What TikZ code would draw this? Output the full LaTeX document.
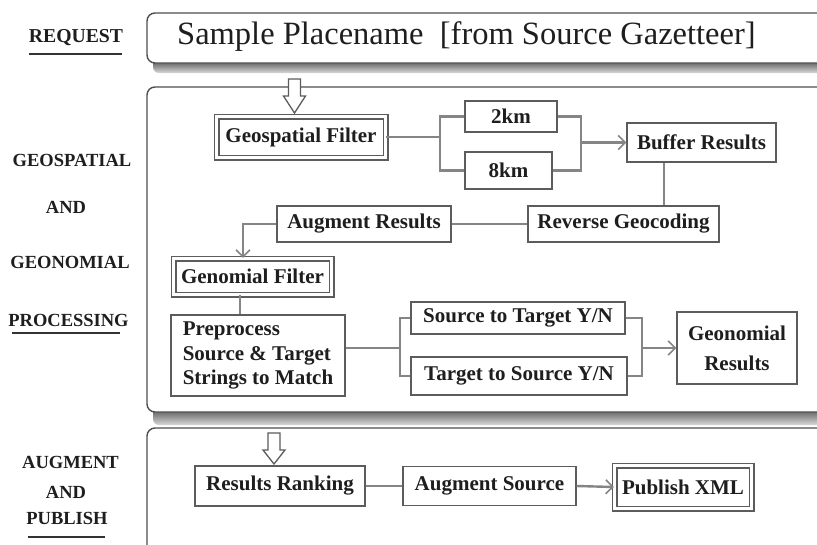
\documentclass[tikz,border=0pt]{standalone}
\usepackage{fontspec}
\setmainfont{Liberation Serif}
\usetikzlibrary{arrows.meta,calc}
\definecolor{ink}{HTML}{1E1E1E}
\definecolor{boxgray}{HTML}{5C5C5C}
\definecolor{linegray}{HTML}{858585}
\definecolor{panelgray}{HTML}{4E4E4E}

\begin{document}
\begin{tikzpicture}[x=1pt,y=-1pt,
  panel/.style={draw=panelgray, line width=1.4pt, fill=white, rounded corners=8pt},
  pshadow/.style={rounded corners=6pt, top color=black!95, bottom color=black!15},
  box/.style={draw=boxgray, line width=1.3pt, fill=white, text=ink, inner sep=0pt,
    font=\bfseries\fontsize{21}{24}\selectfont},
  dbox/.style={box, double=white, double distance=3.6pt, line width=1.2pt},
  side/.style={text=ink, inner sep=0pt, font=\bfseries\fontsize{18.5}{20}\selectfont},
  uline/.style={draw=black!80, line width=2.2pt},
  link/.style={draw=linegray, line width=2.4pt},
  arr/.style={link, -{Straight Barb[length=7pt,width=14pt,line width=1.6pt]}},
  hollow/.style={draw=boxgray, line width=1.3pt, fill=white, line join=miter}
]
\useasboundingbox (0,0) rectangle (817,544);
\clip (0,0) rectangle (817,544);
\fill[white] (0,0) rectangle (817,544);

% ---- three stage panels with their drop shadows ----
\shade[pshadow] (153,54) rectangle (840,73);
\draw[panel] (147,13) rectangle (850,63);
\shade[pshadow] (153,400) rectangle (840,425);
\draw[panel] (147,87) rectangle (850,412);
\draw[panel] (147,428) rectangle (850,570);

% ---- stage labels ----
\node[side, font=\bfseries\fontsize{19.7}{21}\selectfont] (lReq) at (76,38) {REQUEST};
\draw[uline] (29,54) -- (122,54);
\node[side] (lGeo)  at (72,160) {GEOSPATIAL};
\node[side] (lAnd1) at (66,207) {AND};
\node[side] (lGen)  at (70,262) {GEONOMIAL};
\node[side] (lProc) at (68.5,320) {PROCESSING};
\draw[uline] (12,333) -- (120,333);
\node[side] (lAug)  at (70.5,462) {AUGMENT};
\node[side] (lAnd2) at (66,492) {AND};
\node[side] (lPub)  at (67,518) {PUBLISH};
\draw[uline] (28,537) -- (105,537);

% ---- request ----
\node[anchor=west, inner sep=0pt, text=ink, font=\fontsize{32.5}{36}\selectfont]
  (req) at (177,37) {Sample Placename\ \ [from Source Gazetteer]};

% ---- geospatial processing ----
\node[dbox, minimum width=169pt, minimum height=41pt] (geo) at (301,137) {Geospatial Filter};
\node[box, minimum width=92pt, minimum height=31pt] (km2) at (511,116.5) {2km};
\node[box, minimum width=87pt, minimum height=37pt] (km8) at (508.5,170.5) {8km};
\node[box, minimum width=149pt, minimum height=39pt] (buf) at (701.5,142.5) {Buffer Results};
\node[box, minimum width=191pt, minimum height=36pt] (rev) at (623.5,224) {Reverse Geocoding};
\node[box, minimum width=174pt, minimum height=36pt] (aug) at (364,224) {Augment Results};

% ---- genomial processing ----
\node[dbox, minimum width=158pt, minimum height=36pt] (gen) at (252.5,276.5) {Genomial Filter};
\node[box, minimum width=174pt, minimum height=81pt, align=left,
  font=\bfseries\fontsize{21}{24.5}\selectfont] (pre) at (258,355.5)
  {Preprocess\\Source \& Target\\Strings to Match};
\node[box, minimum width=214pt, minimum height=32pt] (st) at (518,318) {Source to Target Y/N};
\node[box, minimum width=216pt, minimum height=38pt] (ts) at (519,376) {Target to Source Y/N};
\node[box, minimum width=120pt, minimum height=72pt, align=center,
  font=\bfseries\fontsize{21}{30}\selectfont] (geon) at (737,348) {Geonomial\\Results};

% ---- augment and publish ----
\node[box, minimum width=170pt, minimum height=40pt] (rank) at (280,486) {Results Ranking};
\node[box, minimum width=173pt, minimum height=39pt] (augs) at (489.5,486) {Augment Source};
\node[dbox, minimum width=137pt, minimum height=43pt] (pub) at (683,487) {Publish XML};

% ---- hollow entry arrows ----
\coordinate (tipA) at (294.5,113);
\draw[hollow] (tipA) -- ++(-11,-17) -- ++(5,0) -- ++(0,-17) -- ++(12,0)
  -- ++(0,17) -- ++(5,0) -- cycle;
\coordinate (tipB) at (274,464);
\draw[hollow] (tipB) -- ++(-11,-14) -- ++(5,0) -- ++(0,-17) -- ++(12,0)
  -- ++(0,17) -- ++(5,0) -- cycle;

% ---- connectors ----
\coordinate (sp1) at (440,137);
\draw[link] (geo.east) -- (sp1);
\draw[link] (km2.west) -| (sp1);
\draw[link] (km8.west) -| (sp1);
\coordinate (jn1) at (581,142.5);
\draw[link] (km2.east) -| (jn1);
\draw[link] (km8.east) -| (jn1);
\draw[arr] (jn1) -- (buf.west);
\draw[link] ([xshift=-37.5pt]buf.south) -- ([xshift=-37.5pt]buf.south |- rev.north);
\draw[link] (rev.west) -- (aug.east);
\draw[arr] (aug.west) -| ([xshift=-9.5pt]gen.north);
\draw[link] ([xshift=-12.5pt]gen.south) -- ([xshift=-12.5pt]gen.south |- pre.north);
\coordinate (sp2) at (400,348);
\draw[link] (pre.east |- sp2) -- (sp2);
\draw[link] (st.west) -| (sp2);
\draw[link] (ts.west) -| (sp2);
\coordinate (jn2) at (642,348);
\draw[link] (st.east) -| (jn2);
\draw[link] (ts.east) -| (jn2);
\draw[arr] (jn2) -- (geon.west);
\draw[link] (rank.east) -- (augs.west);
\draw[arr] (augs.east) -- (pub.west);
\end{tikzpicture}
\end{document}
